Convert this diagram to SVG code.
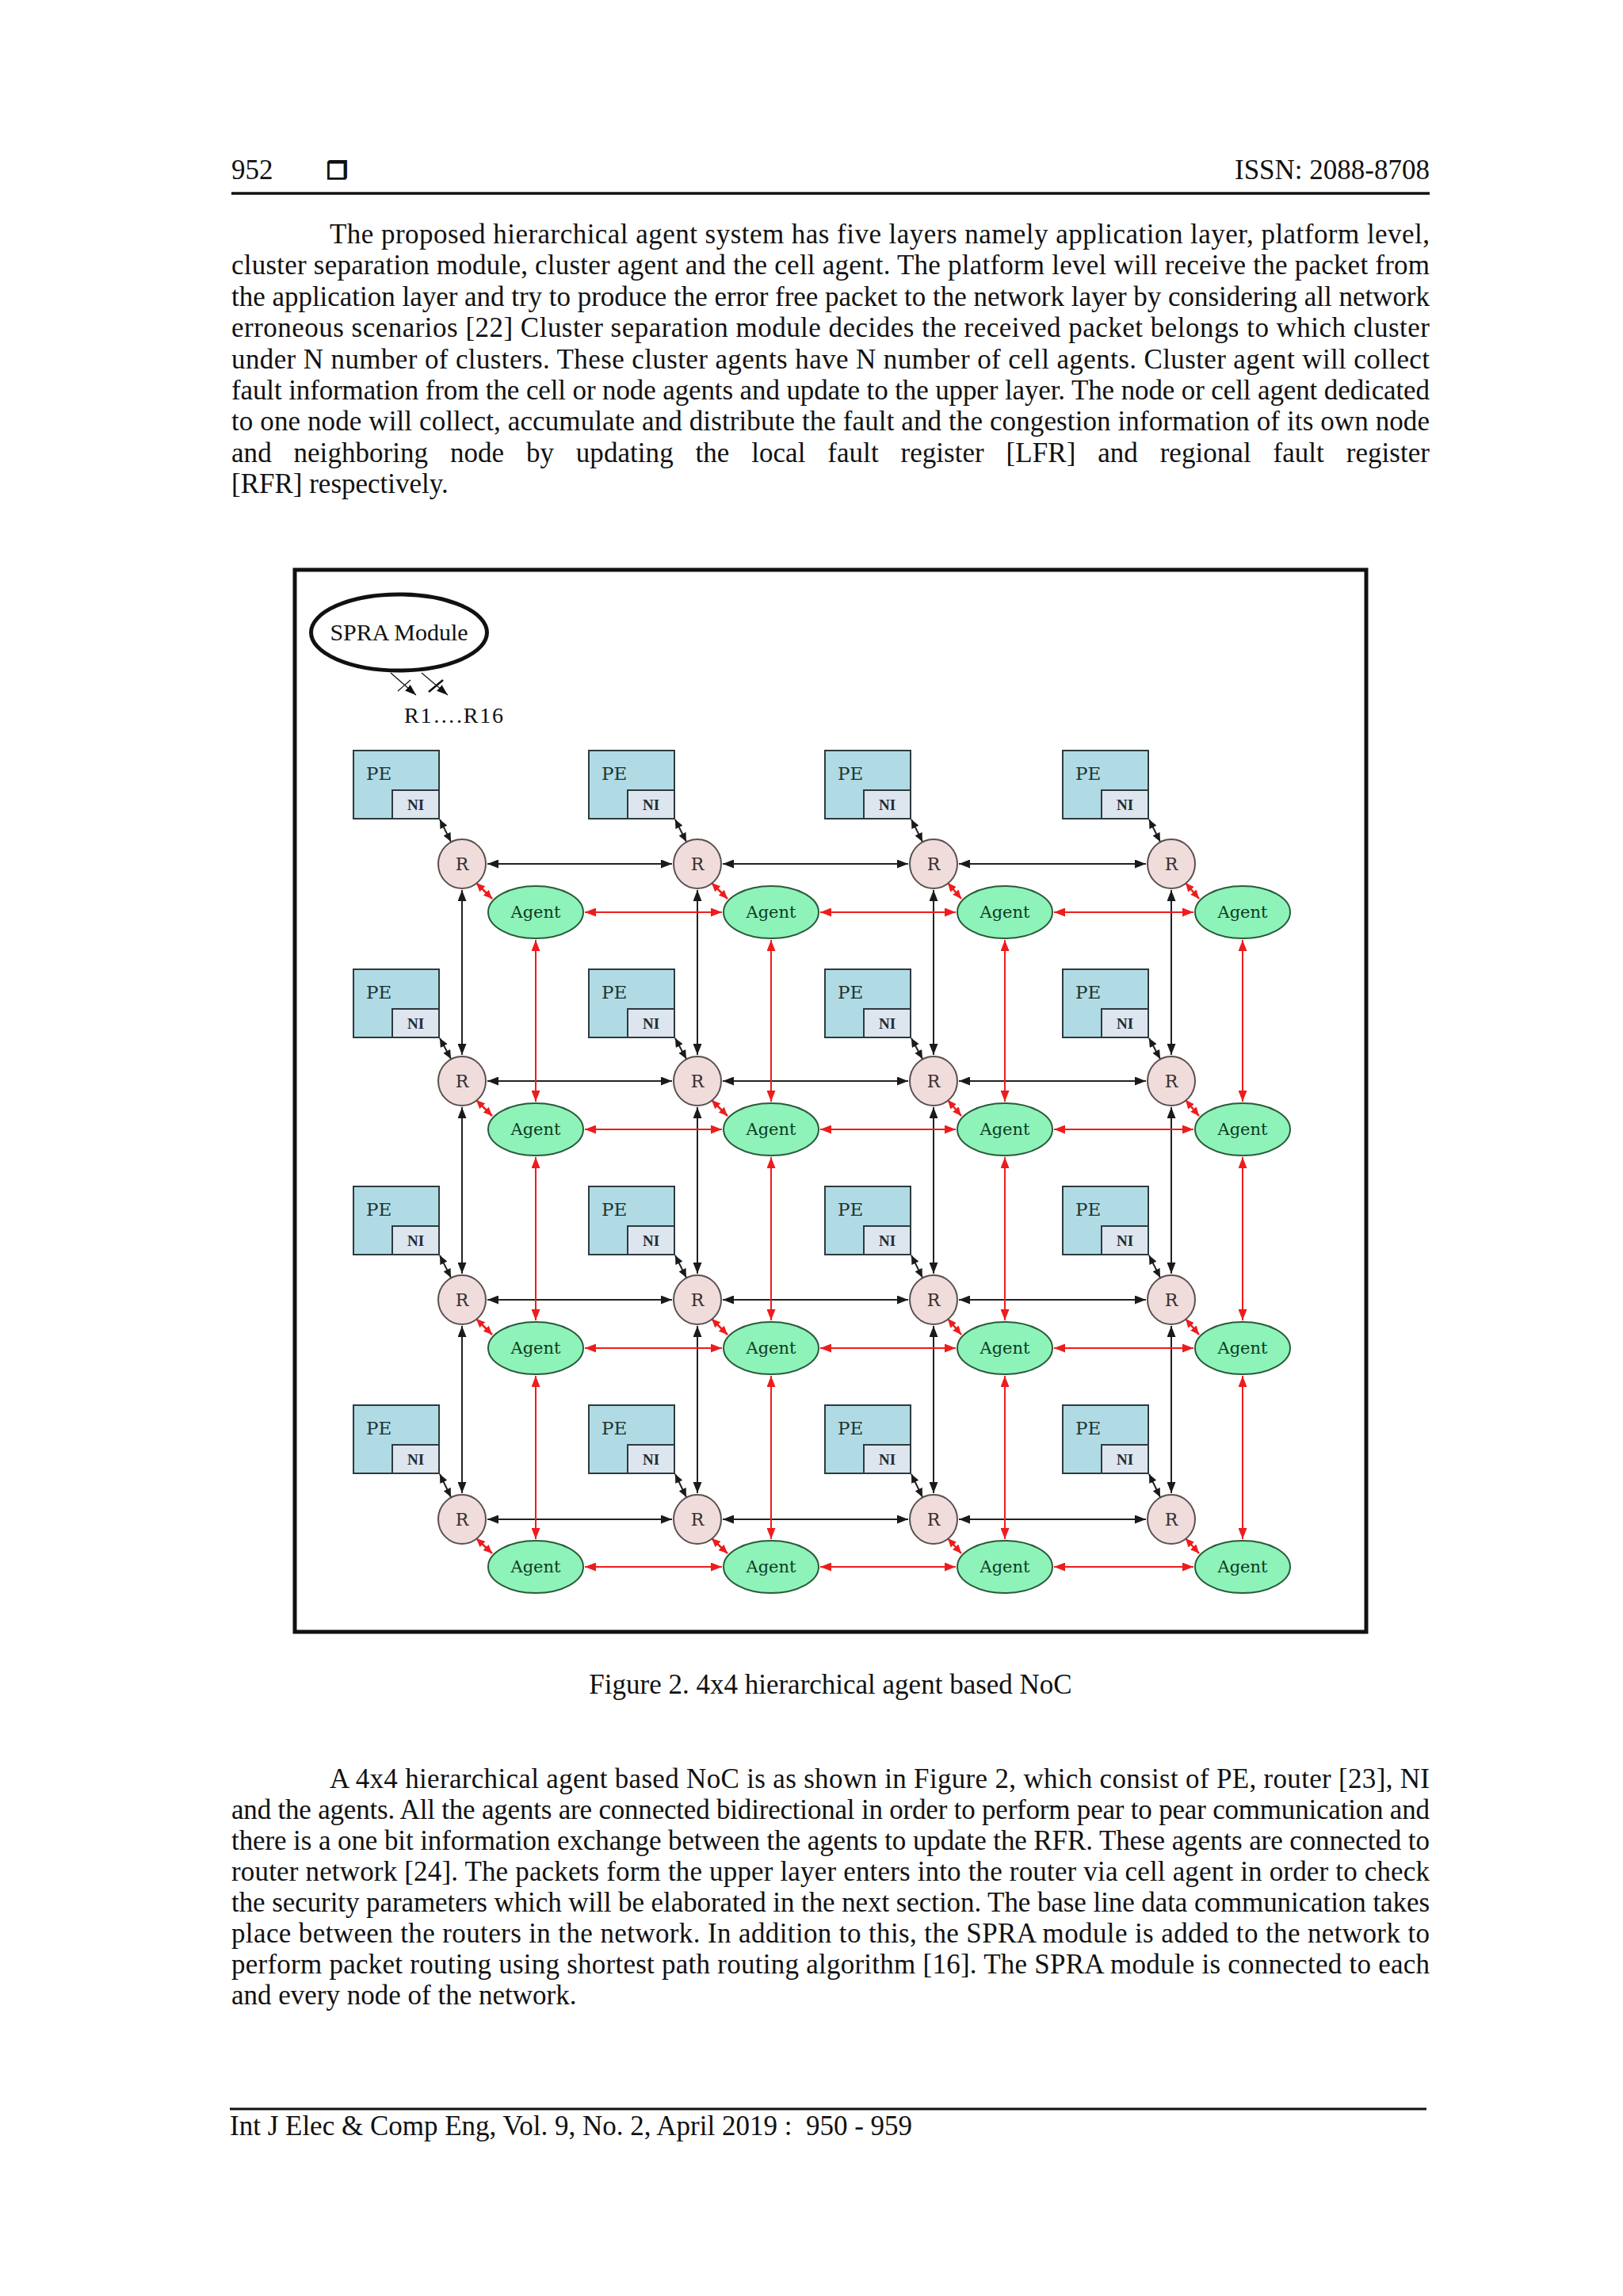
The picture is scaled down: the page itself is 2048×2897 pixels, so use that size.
<svg xmlns="http://www.w3.org/2000/svg" width="2048" height="2897" viewBox="0 0 2048 2897">
<defs>
<style>
.body{font-family:"Liberation Serif","Times New Roman",serif;font-size:35px;fill:#111}
.pebox{fill:#b0dbe5;stroke:#2e3a3e;stroke-width:2}
.nibox{fill:#dde5ef;stroke:#2e3a3e;stroke-width:2}
.pet{font-family:"DejaVu Serif","Liberation Serif",serif;font-size:23px;fill:#1e3434}
.nit{font-family:"Liberation Serif",serif;font-weight:bold;font-size:19px;fill:#1e2e34;text-anchor:middle}
.rn{fill:#f1dcdc;stroke:#5a5050;stroke-width:2}
.rt{font-family:"DejaVu Serif","Liberation Serif",serif;font-size:22px;fill:#333;text-anchor:middle}
.an{fill:#8ef3b9;stroke:#2b5a3b;stroke-width:2}
.at{font-family:"DejaVu Serif","Liberation Serif",serif;font-size:21px;fill:#0d3b1f;text-anchor:middle}
.kb{fill:none;stroke:#222;stroke-width:2;marker-start:url(#ab);marker-end:url(#ab)}
.kr{fill:none;stroke:#ee1c1c;stroke-width:2;marker-start:url(#ar);marker-end:url(#ar)}
.db{fill:none;stroke:#222;stroke-width:2;marker-start:url(#abs);marker-end:url(#abs)}
.dr{fill:none;stroke:#ee1c1c;stroke-width:2.5;marker-start:url(#ars);marker-end:url(#ars)}
</style>
<marker id="ab" viewBox="0 0 14 11" refX="14" refY="5.5" markerWidth="14" markerHeight="11" markerUnits="userSpaceOnUse" orient="auto-start-reverse"><path d="M0,0 L14,5.5 L0,11 z" fill="#1a1a1a"/></marker>
<marker id="ar" viewBox="0 0 14 11" refX="14" refY="5.5" markerWidth="14" markerHeight="11" markerUnits="userSpaceOnUse" orient="auto-start-reverse"><path d="M0,0 L14,5.5 L0,11 z" fill="#ee1c1c"/></marker>
<marker id="abs" viewBox="0 0 11 10" refX="11" refY="5" markerWidth="11" markerHeight="10" markerUnits="userSpaceOnUse" orient="auto-start-reverse"><path d="M0,0 L11,5 L0,10 z" fill="#1a1a1a"/></marker>
<marker id="ars" viewBox="0 0 11 10" refX="11" refY="5" markerWidth="11" markerHeight="10" markerUnits="userSpaceOnUse" orient="auto-start-reverse"><path d="M0,0 L11,5 L0,10 z" fill="#ee1c1c"/></marker>
<marker id="am" viewBox="0 0 14 10" refX="14" refY="5" markerWidth="14" markerHeight="10" markerUnits="userSpaceOnUse" orient="auto"><path d="M0,0 L14,5 L0,10 z" fill="#111"/></marker>
</defs>
<rect x="0" y="0" width="2048" height="2897" fill="#ffffff"/>

<g id="header">
<text class="body" x="292" y="226">952</text>
<text x="412" y="226" style="font-family:'DejaVu Sans',sans-serif;font-size:30px;fill:#111;stroke:#111;stroke-width:1.6">❒</text>
<text class="body" x="1804" y="226" text-anchor="end">ISSN: 2088-8708</text>
<line x1="292" y1="244" x2="1804" y2="244" stroke="#111" stroke-width="3.5"/>
</g>

<g id="paragraph1" class="body">
<text x="416" y="307" textLength="1388" lengthAdjust="spacing">The proposed hierarchical agent system has five layers namely application layer, platform level,</text>
<text x="292" y="346" textLength="1512" lengthAdjust="spacing">cluster separation module, cluster agent and the cell agent. The platform level will receive the packet from</text>
<text x="292" y="386" textLength="1512" lengthAdjust="spacing">the application layer and try to produce the error free packet to the network layer by considering all network</text>
<text x="292" y="425" textLength="1512" lengthAdjust="spacing">erroneous scenarios [22] Cluster separation module decides the received packet belongs to which cluster</text>
<text x="292" y="465" textLength="1512" lengthAdjust="spacing">under N number of clusters. These cluster agents have N number of cell agents. Cluster agent will collect</text>
<text x="292" y="504" textLength="1512" lengthAdjust="spacing">fault information from the cell or node agents and update to the upper layer. The node or cell agent dedicated</text>
<text x="292" y="543" textLength="1512" lengthAdjust="spacing">to one node will collect, accumulate and distribute the fault and the congestion information of its own node</text>
<text x="292" y="583" word-spacing="19" textLength="1512" lengthAdjust="spacing">and neighboring node by updating the local fault register [LFR] and regional fault register</text>
<text x="292" y="622">[RFR] respectively.</text>
</g>

<rect id="figure-frame" x="372" y="719" width="1352" height="1340" fill="none" stroke="#111" stroke-width="5"/>

<g id="spra-module">
<ellipse cx="503.5" cy="798" rx="111" ry="48" fill="#fff" stroke="#111" stroke-width="5"/>
<text x="503.5" y="808" text-anchor="middle" style="font-family:'Liberation Serif',serif;font-size:30px;fill:#111">SPRA Module</text>
</g>
<g id="spra-links">
<line x1="493" y1="849" x2="525" y2="877" stroke="#111" stroke-width="1.2" marker-end="url(#am)"/>
<line x1="502" y1="872" x2="518" y2="858" stroke="#111" stroke-width="1.2"/>
<line x1="532" y1="849" x2="565" y2="877" stroke="#111" stroke-width="1.2" marker-end="url(#am)"/>
<line x1="541" y1="873" x2="559" y2="858" stroke="#111" stroke-width="2.5"/>
<text x="510" y="912" textLength="125" lengthAdjust="spacing" style="font-family:'Liberation Serif',serif;font-size:28px;fill:#111">R1….R16</text>
</g>

<g id="connectors">
<path class="kb" d="M615,1090 L848,1090"/><path class="kb" d="M912,1090 L1146,1090"/><path class="kb" d="M1210,1090 L1446,1090"/>
<path class="kb" d="M615,1364 L848,1364"/><path class="kb" d="M912,1364 L1146,1364"/><path class="kb" d="M1210,1364 L1446,1364"/>
<path class="kb" d="M615,1640 L848,1640"/><path class="kb" d="M912,1640 L1146,1640"/><path class="kb" d="M1210,1640 L1446,1640"/>
<path class="kb" d="M615,1917 L848,1917"/><path class="kb" d="M912,1917 L1146,1917"/><path class="kb" d="M1210,1917 L1446,1917"/>
<path class="kb" d="M583,1123 L583,1331"/><path class="kb" d="M583,1397 L583,1607"/><path class="kb" d="M583,1673 L583,1884"/>
<path class="kb" d="M880,1123 L880,1331"/><path class="kb" d="M880,1397 L880,1607"/><path class="kb" d="M880,1673 L880,1884"/>
<path class="kb" d="M1178,1123 L1178,1331"/><path class="kb" d="M1178,1397 L1178,1607"/><path class="kb" d="M1178,1673 L1178,1884"/>
<path class="kb" d="M1478,1123 L1478,1331"/><path class="kb" d="M1478,1397 L1478,1607"/><path class="kb" d="M1478,1673 L1478,1884"/>
<path class="kr" d="M738,1151 L911,1151"/><path class="kr" d="M1035,1151 L1206,1151"/><path class="kr" d="M1330,1151 L1506,1151"/>
<path class="kr" d="M738,1425 L911,1425"/><path class="kr" d="M1035,1425 L1206,1425"/><path class="kr" d="M1330,1425 L1506,1425"/>
<path class="kr" d="M738,1701 L911,1701"/><path class="kr" d="M1035,1701 L1206,1701"/><path class="kr" d="M1330,1701 L1506,1701"/>
<path class="kr" d="M738,1977 L911,1977"/><path class="kr" d="M1035,1977 L1206,1977"/><path class="kr" d="M1330,1977 L1506,1977"/>
<path class="kr" d="M676,1186 L676,1390"/><path class="kr" d="M676,1460 L676,1666"/><path class="kr" d="M676,1736 L676,1942"/>
<path class="kr" d="M973,1186 L973,1390"/><path class="kr" d="M973,1460 L973,1666"/><path class="kr" d="M973,1736 L973,1942"/>
<path class="kr" d="M1268,1186 L1268,1390"/><path class="kr" d="M1268,1460 L1268,1666"/><path class="kr" d="M1268,1736 L1268,1942"/>
<path class="kr" d="M1568,1186 L1568,1390"/><path class="kr" d="M1568,1460 L1568,1666"/><path class="kr" d="M1568,1736 L1568,1942"/>
<path class="db" d="M555,1034 L569,1062"/><path class="db" d="M852,1034 L866,1062"/><path class="db" d="M1150,1034 L1164,1062"/><path class="db" d="M1450,1034 L1464,1062"/>
<path class="db" d="M555,1310 L569,1336"/><path class="db" d="M852,1310 L866,1336"/><path class="db" d="M1150,1310 L1164,1336"/><path class="db" d="M1450,1310 L1464,1336"/>
<path class="db" d="M555,1584 L569,1612"/><path class="db" d="M852,1584 L866,1612"/><path class="db" d="M1150,1584 L1164,1612"/><path class="db" d="M1450,1584 L1464,1612"/>
<path class="db" d="M555,1860 L569,1889"/><path class="db" d="M852,1860 L866,1889"/><path class="db" d="M1150,1860 L1164,1889"/><path class="db" d="M1450,1860 L1464,1889"/>
<path class="dr" d="M601,1114 L621,1134"/><path class="dr" d="M898,1114 L918,1134"/><path class="dr" d="M1196,1114 L1213,1134"/><path class="dr" d="M1496,1114 L1513,1134"/>
<path class="dr" d="M601,1388 L621,1408"/><path class="dr" d="M898,1388 L918,1408"/><path class="dr" d="M1196,1388 L1213,1408"/><path class="dr" d="M1496,1388 L1513,1408"/>
<path class="dr" d="M601,1664 L621,1684"/><path class="dr" d="M898,1664 L918,1684"/><path class="dr" d="M1196,1664 L1213,1684"/><path class="dr" d="M1496,1664 L1513,1684"/>
<path class="dr" d="M601,1941 L621,1960"/><path class="dr" d="M898,1941 L918,1960"/><path class="dr" d="M1196,1941 L1213,1960"/><path class="dr" d="M1496,1941 L1513,1960"/>
</g>

<g id="pe-r1c1"><rect class="pebox" x="446" y="947" width="108" height="86"/><rect class="nibox" x="495" y="997" width="59" height="36"/><text class="pet" x="462" y="984">PE</text><text class="nit" x="524.5" y="1022">NI</text></g>
<g id="pe-r1c2"><rect class="pebox" x="743" y="947" width="108" height="86"/><rect class="nibox" x="792" y="997" width="59" height="36"/><text class="pet" x="759" y="984">PE</text><text class="nit" x="821.5" y="1022">NI</text></g>
<g id="pe-r1c3"><rect class="pebox" x="1041" y="947" width="108" height="86"/><rect class="nibox" x="1090" y="997" width="59" height="36"/><text class="pet" x="1057" y="984">PE</text><text class="nit" x="1119.5" y="1022">NI</text></g>
<g id="pe-r1c4"><rect class="pebox" x="1341" y="947" width="108" height="86"/><rect class="nibox" x="1390" y="997" width="59" height="36"/><text class="pet" x="1357" y="984">PE</text><text class="nit" x="1419.5" y="1022">NI</text></g>
<g id="pe-r2c1"><rect class="pebox" x="446" y="1223" width="108" height="86"/><rect class="nibox" x="495" y="1273" width="59" height="36"/><text class="pet" x="462" y="1260">PE</text><text class="nit" x="524.5" y="1298">NI</text></g>
<g id="pe-r2c2"><rect class="pebox" x="743" y="1223" width="108" height="86"/><rect class="nibox" x="792" y="1273" width="59" height="36"/><text class="pet" x="759" y="1260">PE</text><text class="nit" x="821.5" y="1298">NI</text></g>
<g id="pe-r2c3"><rect class="pebox" x="1041" y="1223" width="108" height="86"/><rect class="nibox" x="1090" y="1273" width="59" height="36"/><text class="pet" x="1057" y="1260">PE</text><text class="nit" x="1119.5" y="1298">NI</text></g>
<g id="pe-r2c4"><rect class="pebox" x="1341" y="1223" width="108" height="86"/><rect class="nibox" x="1390" y="1273" width="59" height="36"/><text class="pet" x="1357" y="1260">PE</text><text class="nit" x="1419.5" y="1298">NI</text></g>
<g id="pe-r3c1"><rect class="pebox" x="446" y="1497" width="108" height="86"/><rect class="nibox" x="495" y="1547" width="59" height="36"/><text class="pet" x="462" y="1534">PE</text><text class="nit" x="524.5" y="1572">NI</text></g>
<g id="pe-r3c2"><rect class="pebox" x="743" y="1497" width="108" height="86"/><rect class="nibox" x="792" y="1547" width="59" height="36"/><text class="pet" x="759" y="1534">PE</text><text class="nit" x="821.5" y="1572">NI</text></g>
<g id="pe-r3c3"><rect class="pebox" x="1041" y="1497" width="108" height="86"/><rect class="nibox" x="1090" y="1547" width="59" height="36"/><text class="pet" x="1057" y="1534">PE</text><text class="nit" x="1119.5" y="1572">NI</text></g>
<g id="pe-r3c4"><rect class="pebox" x="1341" y="1497" width="108" height="86"/><rect class="nibox" x="1390" y="1547" width="59" height="36"/><text class="pet" x="1357" y="1534">PE</text><text class="nit" x="1419.5" y="1572">NI</text></g>
<g id="pe-r4c1"><rect class="pebox" x="446" y="1773" width="108" height="86"/><rect class="nibox" x="495" y="1823" width="59" height="36"/><text class="pet" x="462" y="1810">PE</text><text class="nit" x="524.5" y="1848">NI</text></g>
<g id="pe-r4c2"><rect class="pebox" x="743" y="1773" width="108" height="86"/><rect class="nibox" x="792" y="1823" width="59" height="36"/><text class="pet" x="759" y="1810">PE</text><text class="nit" x="821.5" y="1848">NI</text></g>
<g id="pe-r4c3"><rect class="pebox" x="1041" y="1773" width="108" height="86"/><rect class="nibox" x="1090" y="1823" width="59" height="36"/><text class="pet" x="1057" y="1810">PE</text><text class="nit" x="1119.5" y="1848">NI</text></g>
<g id="pe-r4c4"><rect class="pebox" x="1341" y="1773" width="108" height="86"/><rect class="nibox" x="1390" y="1823" width="59" height="36"/><text class="pet" x="1357" y="1810">PE</text><text class="nit" x="1419.5" y="1848">NI</text></g>

<g id="r-r1c1"><ellipse class="rn" cx="583" cy="1090" rx="30" ry="31"/><text class="rt" x="583" y="1098">R</text></g>
<g id="r-r1c2"><ellipse class="rn" cx="880" cy="1090" rx="30" ry="31"/><text class="rt" x="880" y="1098">R</text></g>
<g id="r-r1c3"><ellipse class="rn" cx="1178" cy="1090" rx="30" ry="31"/><text class="rt" x="1178" y="1098">R</text></g>
<g id="r-r1c4"><ellipse class="rn" cx="1478" cy="1090" rx="30" ry="31"/><text class="rt" x="1478" y="1098">R</text></g>
<g id="r-r2c1"><ellipse class="rn" cx="583" cy="1364" rx="30" ry="31"/><text class="rt" x="583" y="1372">R</text></g>
<g id="r-r2c2"><ellipse class="rn" cx="880" cy="1364" rx="30" ry="31"/><text class="rt" x="880" y="1372">R</text></g>
<g id="r-r2c3"><ellipse class="rn" cx="1178" cy="1364" rx="30" ry="31"/><text class="rt" x="1178" y="1372">R</text></g>
<g id="r-r2c4"><ellipse class="rn" cx="1478" cy="1364" rx="30" ry="31"/><text class="rt" x="1478" y="1372">R</text></g>
<g id="r-r3c1"><ellipse class="rn" cx="583" cy="1640" rx="30" ry="31"/><text class="rt" x="583" y="1648">R</text></g>
<g id="r-r3c2"><ellipse class="rn" cx="880" cy="1640" rx="30" ry="31"/><text class="rt" x="880" y="1648">R</text></g>
<g id="r-r3c3"><ellipse class="rn" cx="1178" cy="1640" rx="30" ry="31"/><text class="rt" x="1178" y="1648">R</text></g>
<g id="r-r3c4"><ellipse class="rn" cx="1478" cy="1640" rx="30" ry="31"/><text class="rt" x="1478" y="1648">R</text></g>
<g id="r-r4c1"><ellipse class="rn" cx="583" cy="1917" rx="30" ry="31"/><text class="rt" x="583" y="1925">R</text></g>
<g id="r-r4c2"><ellipse class="rn" cx="880" cy="1917" rx="30" ry="31"/><text class="rt" x="880" y="1925">R</text></g>
<g id="r-r4c3"><ellipse class="rn" cx="1178" cy="1917" rx="30" ry="31"/><text class="rt" x="1178" y="1925">R</text></g>
<g id="r-r4c4"><ellipse class="rn" cx="1478" cy="1917" rx="30" ry="31"/><text class="rt" x="1478" y="1925">R</text></g>

<g id="agent-r1c1"><ellipse class="an" cx="676" cy="1151" rx="60" ry="33"/><text class="at" x="676" y="1158">Agent</text></g>
<g id="agent-r1c2"><ellipse class="an" cx="973" cy="1151" rx="60" ry="33"/><text class="at" x="973" y="1158">Agent</text></g>
<g id="agent-r1c3"><ellipse class="an" cx="1268" cy="1151" rx="60" ry="33"/><text class="at" x="1268" y="1158">Agent</text></g>
<g id="agent-r1c4"><ellipse class="an" cx="1568" cy="1151" rx="60" ry="33"/><text class="at" x="1568" y="1158">Agent</text></g>
<g id="agent-r2c1"><ellipse class="an" cx="676" cy="1425" rx="60" ry="33"/><text class="at" x="676" y="1432">Agent</text></g>
<g id="agent-r2c2"><ellipse class="an" cx="973" cy="1425" rx="60" ry="33"/><text class="at" x="973" y="1432">Agent</text></g>
<g id="agent-r2c3"><ellipse class="an" cx="1268" cy="1425" rx="60" ry="33"/><text class="at" x="1268" y="1432">Agent</text></g>
<g id="agent-r2c4"><ellipse class="an" cx="1568" cy="1425" rx="60" ry="33"/><text class="at" x="1568" y="1432">Agent</text></g>
<g id="agent-r3c1"><ellipse class="an" cx="676" cy="1701" rx="60" ry="33"/><text class="at" x="676" y="1708">Agent</text></g>
<g id="agent-r3c2"><ellipse class="an" cx="973" cy="1701" rx="60" ry="33"/><text class="at" x="973" y="1708">Agent</text></g>
<g id="agent-r3c3"><ellipse class="an" cx="1268" cy="1701" rx="60" ry="33"/><text class="at" x="1268" y="1708">Agent</text></g>
<g id="agent-r3c4"><ellipse class="an" cx="1568" cy="1701" rx="60" ry="33"/><text class="at" x="1568" y="1708">Agent</text></g>
<g id="agent-r4c1"><ellipse class="an" cx="676" cy="1977" rx="60" ry="33"/><text class="at" x="676" y="1984">Agent</text></g>
<g id="agent-r4c2"><ellipse class="an" cx="973" cy="1977" rx="60" ry="33"/><text class="at" x="973" y="1984">Agent</text></g>
<g id="agent-r4c3"><ellipse class="an" cx="1268" cy="1977" rx="60" ry="33"/><text class="at" x="1268" y="1984">Agent</text></g>
<g id="agent-r4c4"><ellipse class="an" cx="1568" cy="1977" rx="60" ry="33"/><text class="at" x="1568" y="1984">Agent</text></g>

<g id="caption">
<text class="body" x="1048" y="2137" text-anchor="middle">Figure 2. 4x4 hierarchical agent based NoC</text>
</g>

<g id="paragraph2" class="body">
<text x="416" y="2256" textLength="1388" lengthAdjust="spacing">A 4x4 hierarchical agent based NoC is as shown in Figure 2, which consist of PE, router [23], NI</text>
<text x="292" y="2295" textLength="1512" lengthAdjust="spacing">and the agents. All the agents are connected bidirectional in order to perform pear to pear communication and</text>
<text x="292" y="2334" textLength="1512" lengthAdjust="spacing">there is a one bit information exchange between the agents to update the RFR. These agents are connected to</text>
<text x="292" y="2373" textLength="1512" lengthAdjust="spacing">router network [24]. The packets form the upper layer enters into the router via cell agent in order to check</text>
<text x="292" y="2412" textLength="1512" lengthAdjust="spacing">the security parameters which will be elaborated in the next section. The base line data communication takes</text>
<text x="292" y="2451" textLength="1512" lengthAdjust="spacing">place between the routers in the network. In addition to this, the SPRA module is added to the network to</text>
<text x="292" y="2490" textLength="1512" lengthAdjust="spacing">perform packet routing using shortest path routing algorithm [16]. The SPRA module is connected to each</text>
<text x="292" y="2529">and every node of the network.</text>
</g>

<g id="footer">
<line x1="290" y1="2661" x2="1800" y2="2661" stroke="#111" stroke-width="3"/>
<text class="body" x="290" y="2694" xml:space="preserve">Int J Elec &amp; Comp Eng, Vol. 9, No. 2, April 2019 :  950 - 959</text>
</g>
</svg>
